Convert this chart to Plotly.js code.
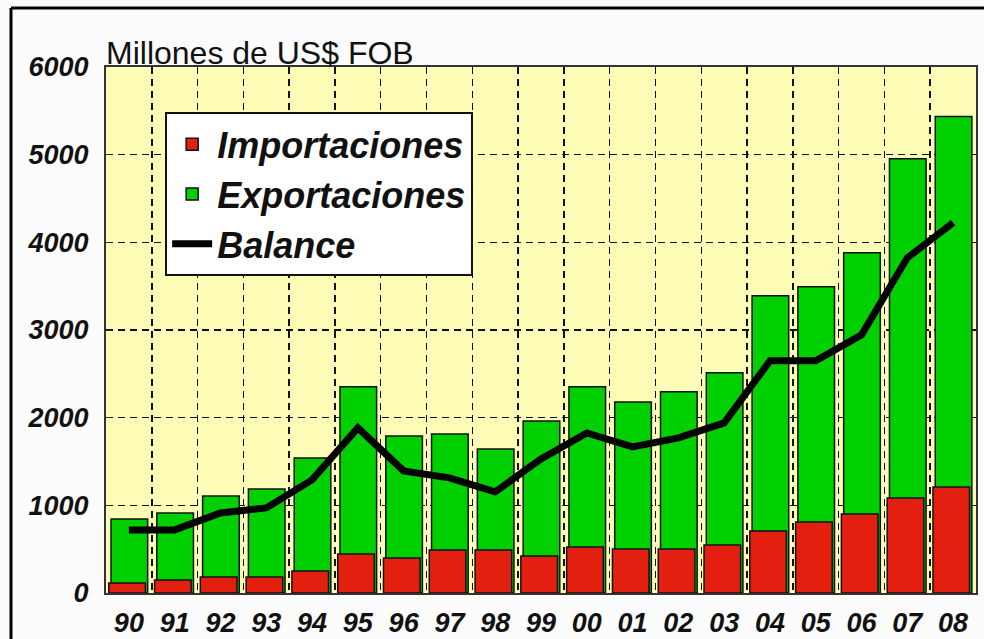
<!DOCTYPE html>
<html>
<head>
<meta charset="utf-8">
<script src="https://cdn.plot.ly/plotly-3.0.1.min.js"></script>
<style>
html,body{margin:0;padding:0;background:#fcfcfc;}
#chart{width:984px;height:639px;}
</style>
</head>
<body>
<div id="chart"></div>
<script>
// Data (millions US$ FOB)
const years = ["90","91","92","93","94","95","96","97","98","99","00","01","02","03","04","05","06","07","08"];
const importaciones = [114,148,183,183,251,445,400,491,491,422,525,502,502,548,708,810,902,1084,1210];
const exportaciones = [845,913,1107,1187,1541,2352,1792,1815,1644,1963,2352,2180,2295,2511,3390,3493,3881,4954,5434];
const balance = [720,720,913,970,1290,1884,1393,1313,1153,1530,1826,1667,1769,1940,2648,2648,2945,3824,4224];

const idx = years.map((_, i) => i);
const FONT = "Liberation Sans, Arial, sans-serif";

const traces = [
  {
    type: "bar", name: "Exportaciones", x: idx, y: exportaciones,
    width: 0.8, offset: -0.39, legendrank: 2,
    marker: {color: "#00d000", line: {color: "#111", width: 1.5}}
  },
  {
    type: "bar", name: "Importaciones", x: idx, y: importaciones,
    width: 0.8, offset: -0.44, legendrank: 1,
    marker: {color: "#e3200f", line: {color: "#111", width: 1.5}}
  },
  {
    type: "scatter", mode: "lines", name: "Balance", x: idx, y: balance,
    legendrank: 3,
    line: {color: "#000", width: 7}
  }
];

const layout = {
  width: 984, height: 639,
  margin: {l: 106, r: 8, t: 67, b: 46},
  paper_bgcolor: "#fcfcfc",
  plot_bgcolor: "#fefdb7",
  barmode: "overlay",
  showlegend: true,
  font: {family: FONT, color: "#111"},
  title: {
    text: "Millones de US$ FOB",
    font: {family: FONT, size: 32, color: "#111"},
    x: 0, xanchor: "left", xref: "paper",
    y: 1, yref: "paper", yanchor: "bottom", pad: {b: 3}
  },
  legend: {
    x: 0.068, y: 0.914, xanchor: "left", yanchor: "top",
    bgcolor: "#ffffff", bordercolor: "#111", borderwidth: 2,
    font: {family: FONT, size: 36, weight: "bold", style: "italic", color: "#111"},
    itemwidth: 40
  },
  xaxis: {
    range: [-0.5, 18.5],
    tickmode: "array", tickvals: idx, ticktext: years,
    showgrid: false, zeroline: false,
    showline: true, linecolor: "#333", linewidth: 2, mirror: true,
    ticks: "", ticklabelstandoff: 5,
    tickfont: {family: FONT, size: 27, weight: "bold", style: "italic", color: "#111"},
    minor: {tick0: 0.5, dtick: 1, showgrid: true, gridcolor: "#111", gridwidth: 1.5, griddash: "7px,5px", ticks: ""}
  },
  yaxis: {
    range: [0, 6000], dtick: 1000,
    showgrid: true, gridcolor: "#111", gridwidth: 1.5, griddash: "7px,5px",
    zeroline: false,
    showline: true, linecolor: "#333", linewidth: 2, mirror: true,
    ticks: "inside", ticklen: 5, tickcolor: "#333",
    ticklabelstandoff: 10,
    tickfont: {family: FONT, size: 27, weight: "bold", style: "italic", color: "#111"}
  },
  shapes: [
    {type: "line", xref: "paper", yref: "paper", x0: -0.1092, x1: 1.02, y0: 1.1122, y1: 1.1122, line: {color: "#000", width: 3}},
    {type: "line", xref: "paper", yref: "paper", x0: -0.1092, x1: -0.1092, y0: 1.1122, y1: -0.1, line: {color: "#000", width: 3}}
  ]
};

Plotly.newPlot("chart", traces, layout, {displayModeBar: false, staticPlot: true});
</script>
</body>
</html>
